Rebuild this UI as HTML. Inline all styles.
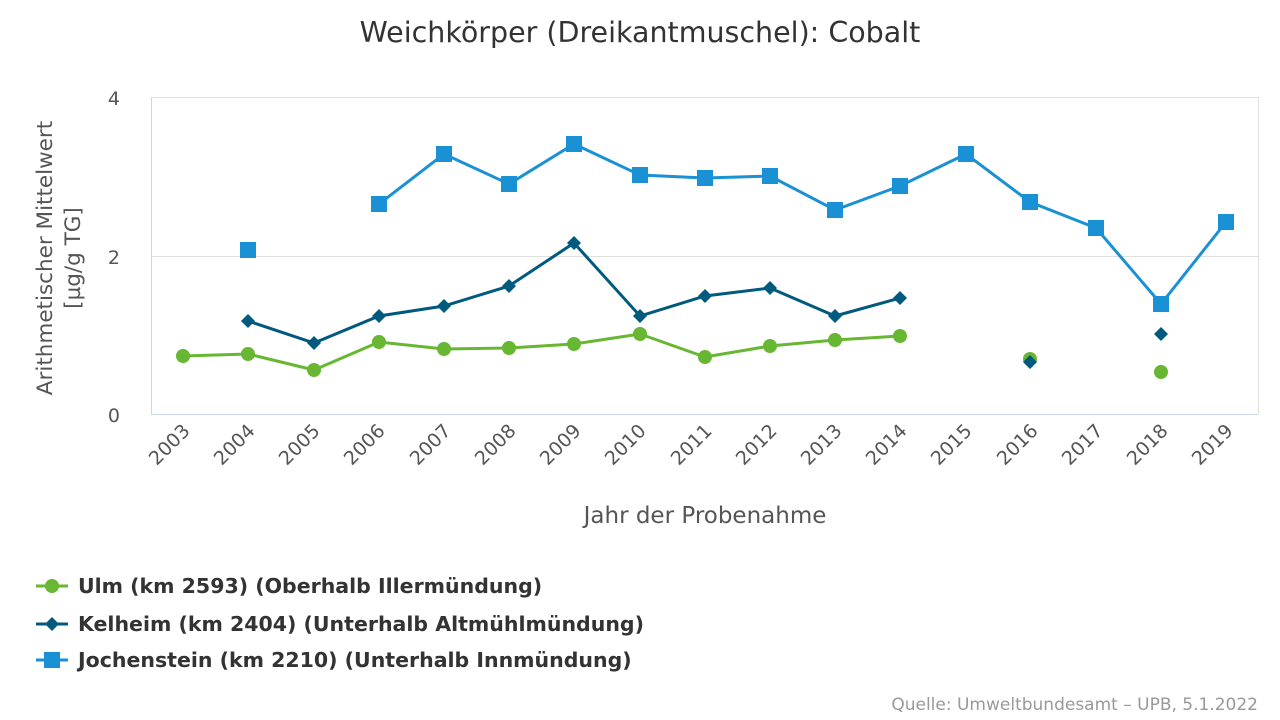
<!DOCTYPE html>
<html><head><meta charset="utf-8"><style>body{margin:0;background:#fff}svg{display:block;font-family:"DejaVu Sans","Liberation Sans",sans-serif}</style></head><body>
<svg width="1280" height="720" viewBox="0 0 1280 720">
<text x="640" y="42" text-anchor="middle" font-size="28.5" fill="#333">Weichkörper (Dreikantmuschel): Cobalt</text>
<line x1="151" y1="97.5" x2="1258" y2="97.5" stroke="#e0e0e0"/>
<line x1="151" y1="256.5" x2="1258" y2="256.5" stroke="#e0e0e0"/>
<line x1="1258.5" y1="97" x2="1258.5" y2="414" stroke="#e0e0e0"/>
<line x1="151.5" y1="97" x2="151.5" y2="414" stroke="#ccd6eb"/>
<line x1="151" y1="414.5" x2="1258" y2="414.5" stroke="#ccd6eb"/>
<g font-size="19" fill="#555" text-anchor="end">
<text x="120" y="105">4</text><text x="120" y="264">2</text><text x="120" y="422">0</text>
</g>
<g transform="translate(52,258) rotate(-90)" font-size="21.5" fill="#555" text-anchor="middle">
<text x="0" y="0">Arithmetischer Mittelwert</text><text x="0" y="28">[µg/g TG]</text>
</g>
<g font-size="19" fill="#555" text-anchor="end">
<text transform="translate(191,432) rotate(-45)">2003</text>
<text transform="translate(256,432) rotate(-45)">2004</text>
<text transform="translate(321,432) rotate(-45)">2005</text>
<text transform="translate(386,432) rotate(-45)">2006</text>
<text transform="translate(452,432) rotate(-45)">2007</text>
<text transform="translate(517,432) rotate(-45)">2008</text>
<text transform="translate(582,432) rotate(-45)">2009</text>
<text transform="translate(647,432) rotate(-45)">2010</text>
<text transform="translate(713,432) rotate(-45)">2011</text>
<text transform="translate(778,432) rotate(-45)">2012</text>
<text transform="translate(843,432) rotate(-45)">2013</text>
<text transform="translate(908,432) rotate(-45)">2014</text>
<text transform="translate(973,432) rotate(-45)">2015</text>
<text transform="translate(1039,432) rotate(-45)">2016</text>
<text transform="translate(1104,432) rotate(-45)">2017</text>
<text transform="translate(1169,432) rotate(-45)">2018</text>
<text transform="translate(1234,432) rotate(-45)">2019</text>
</g>
<text x="705" y="523" text-anchor="middle" font-size="23" fill="#555">Jahr der Probenahme</text>
<polyline fill="none" stroke="#67b732" stroke-width="3" points="183,356 248,354 314,370 379,342 444,349 509,348 574,344 640,334 705,357 770,346 835,340 900,336"/>
<g fill="#67b732">
<circle cx="183" cy="356" r="7"/><circle cx="248" cy="354" r="7"/><circle cx="314" cy="370" r="7"/><circle cx="379" cy="342" r="7"/><circle cx="444" cy="349" r="7"/><circle cx="509" cy="348" r="7"/><circle cx="574" cy="344" r="7"/><circle cx="640" cy="334" r="7"/><circle cx="705" cy="357" r="7"/><circle cx="770" cy="346" r="7"/><circle cx="835" cy="340" r="7"/><circle cx="900" cy="336" r="7"/><circle cx="1030" cy="359" r="7"/><circle cx="1161" cy="372" r="7"/>
</g>
<polyline fill="none" stroke="#005a7e" stroke-width="3" points="248,321 314,343 379,316 444,306 509,286 574,243 640,316 705,296 770,288 835,316 900,298"/>
<g fill="#005a7e">
<path d="M248,314l7,7l-7,7l-7,-7z"/><path d="M314,336l7,7l-7,7l-7,-7z"/><path d="M379,309l7,7l-7,7l-7,-7z"/><path d="M444,299l7,7l-7,7l-7,-7z"/><path d="M509,279l7,7l-7,7l-7,-7z"/><path d="M574,236l7,7l-7,7l-7,-7z"/><path d="M640,309l7,7l-7,7l-7,-7z"/><path d="M705,289l7,7l-7,7l-7,-7z"/><path d="M770,281l7,7l-7,7l-7,-7z"/><path d="M835,309l7,7l-7,7l-7,-7z"/><path d="M900,291l7,7l-7,7l-7,-7z"/><path d="M1030,355l7,7l-7,7l-7,-7z"/><path d="M1161,327l7,7l-7,7l-7,-7z"/>
</g>
<polyline fill="none" stroke="#1a90d5" stroke-width="3" points="379,204 444,154 509,184 574,144 640,175 705,178 770,176 835,210 900,186 966,154 1030,202 1096,228 1161,304 1226,222"/>
<g fill="#1a90d5">
<rect x="240" y="242" width="16" height="16"/><rect x="371" y="196" width="16" height="16"/><rect x="436" y="146" width="16" height="16"/><rect x="501" y="176" width="16" height="16"/><rect x="566" y="136" width="16" height="16"/><rect x="632" y="167" width="16" height="16"/><rect x="697" y="170" width="16" height="16"/><rect x="762" y="168" width="16" height="16"/><rect x="827" y="202" width="16" height="16"/><rect x="892" y="178" width="16" height="16"/><rect x="958" y="146" width="16" height="16"/><rect x="1022" y="194" width="16" height="16"/><rect x="1088" y="220" width="16" height="16"/><rect x="1153" y="296" width="16" height="16"/><rect x="1218" y="214" width="16" height="16"/>
</g>
<g font-size="20.5" font-weight="bold" fill="#333">
<line x1="36" y1="586" x2="68" y2="586" stroke="#67b732" stroke-width="3"/><circle cx="52" cy="586" r="7" fill="#67b732"/>
<text x="78" y="593">Ulm (km 2593) (Oberhalb Illermündung)</text>
<line x1="36" y1="624" x2="68" y2="624" stroke="#005a7e" stroke-width="3"/><path d="M52,617l7,7l-7,7l-7,-7z" fill="#005a7e"/>
<text x="78" y="631">Kelheim (km 2404) (Unterhalb Altmühlmündung)</text>
<line x1="36" y1="660" x2="68" y2="660" stroke="#1a90d5" stroke-width="3"/><rect x="44" y="652" width="16" height="16" fill="#1a90d5"/>
<text x="78" y="667">Jochenstein (km 2210) (Unterhalb Innmündung)</text>
</g>
<text x="1258" y="710" text-anchor="end" font-size="17" fill="#999">Quelle: Umweltbundesamt – UPB, 5.1.2022</text>
</svg>
</body></html>
